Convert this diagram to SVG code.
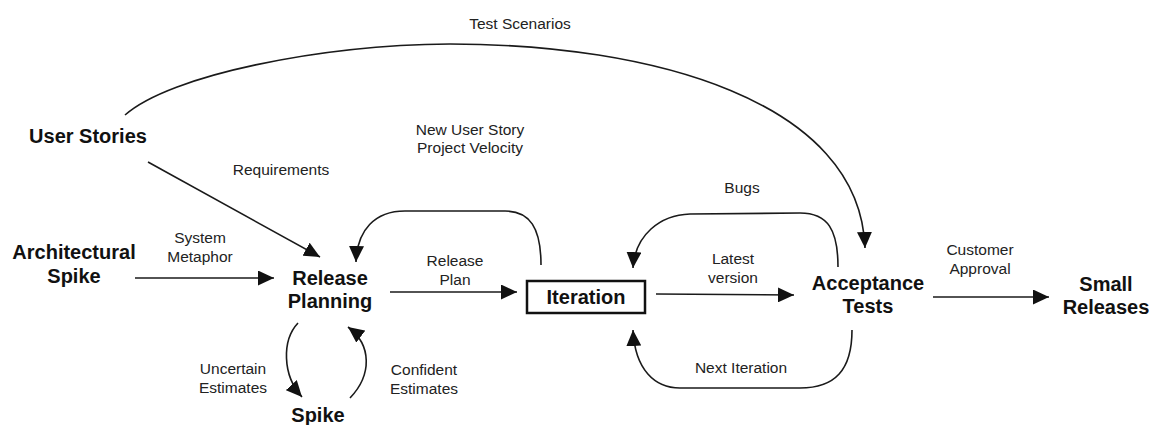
<svg xmlns="http://www.w3.org/2000/svg" width="1152" height="425" viewBox="0 0 1152 425">
<style>
.n{font-family:"Liberation Sans",Arial,sans-serif;font-weight:bold;font-size:20px;fill:#111;text-anchor:middle}
.l{font-family:"Liberation Sans",Arial,sans-serif;font-size:15.5px;fill:#222;text-anchor:middle}
.c{fill:none;stroke:#1a1a1a;stroke-width:1.6}
</style>
<defs>
<marker id="a" markerUnits="userSpaceOnUse" markerWidth="16" markerHeight="15" refX="16" refY="7.5" orient="auto">
<path d="M0,0 L16,7.5 L0,15 z" fill="#111"/>
</marker>
</defs>
<rect width="1152" height="425" fill="#fff"/>
<g id="connectors">
<path class="c" d="M125,115 C170,75 320,45 450,44 C650,44 860,100 865,248" marker-end="url(#a)"/>
<path class="c" d="M148,162 L320,257" marker-end="url(#a)"/>
<path class="c" d="M135,278 L274,278" marker-end="url(#a)"/>
<path class="c" d="M390,292 L517,292" marker-end="url(#a)"/>
<path class="c" d="M541,265 C541,228 530,211 505,211 L405,211 C375,211 357,230 356,262" marker-end="url(#a)"/>
<path class="c" d="M298,323 C282,340 282,375 302,397" marker-end="url(#a)"/>
<path class="c" d="M350,398 C372,375 372,345 348,327" marker-end="url(#a)"/>
<path class="c" d="M656,294 L794,295" marker-end="url(#a)"/>
<path class="c" d="M838,267 C838,230 828,213 800,213 L690,214 C660,215 635,235 633,268" marker-end="url(#a)"/>
<path class="c" d="M852,330 C852,370 835,388 800,388 L680,388 C655,388 635,370 633,330" marker-end="url(#a)"/>
<path class="c" d="M933,297 L1049,297" marker-end="url(#a)"/>
</g>
<g id="labels">
<text class="l" x="520" y="29">Test Scenarios</text>
<text class="l" x="281" y="175">Requirements</text>
<text class="l" x="470" y="135">New User Story</text>
<text class="l" x="470" y="153">Project Velocity</text>
<text class="l" x="742" y="193">Bugs</text>
<text class="l" x="200" y="243">System</text>
<text class="l" x="200" y="262">Metaphor</text>
<text class="l" x="455" y="266">Release</text>
<text class="l" x="455" y="285">Plan</text>
<text class="l" x="733" y="264">Latest</text>
<text class="l" x="733" y="283">version</text>
<text class="l" x="980" y="255">Customer</text>
<text class="l" x="980" y="274">Approval</text>
<text class="l" x="233" y="374">Uncertain</text>
<text class="l" x="233" y="393">Estimates</text>
<text class="l" x="424" y="375">Confident</text>
<text class="l" x="424" y="394">Estimates</text>
<text class="l" x="741" y="373">Next Iteration</text>
</g>
<g id="user-stories"><text class="n" x="88" y="143">User Stories</text></g>
<g id="architectural-spike"><text class="n" x="74" y="259">Architectural</text><text class="n" x="74" y="283">Spike</text></g>
<g id="release-planning"><text class="n" x="330" y="285">Release</text><text class="n" x="330" y="308">Planning</text></g>
<g id="spike"><text class="n" x="318" y="422">Spike</text></g>
<g id="iteration"><rect x="527" y="281" width="118" height="32" fill="#fff" stroke="#111" stroke-width="2.5"/><text class="n" x="586" y="304">Iteration</text></g>
<g id="acceptance-tests"><text class="n" x="868" y="290">Acceptance</text><text class="n" x="868" y="313">Tests</text></g>
<g id="small-releases"><text class="n" x="1106" y="291">Small</text><text class="n" x="1106" y="314">Releases</text></g>
</svg>
